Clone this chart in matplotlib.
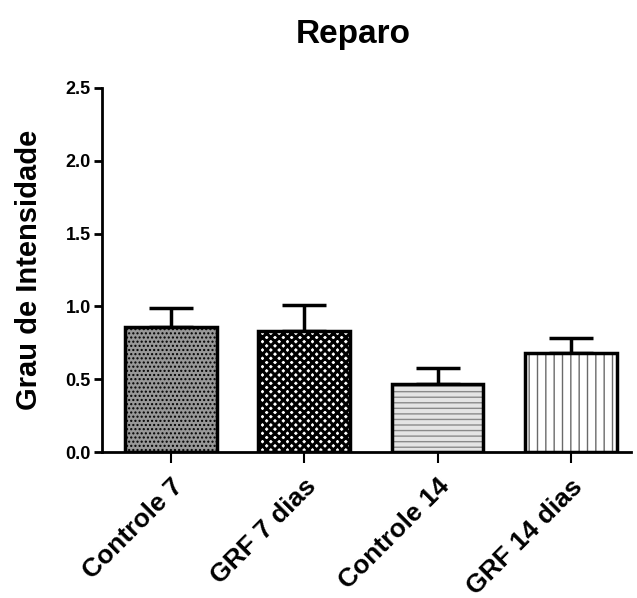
import matplotlib
matplotlib.use("Agg")
import matplotlib.pyplot as plt
import numpy as np

plt.rcParams["font.family"] = ["Liberation Sans", "DejaVu Sans"]
plt.rcParams["font.weight"] = "bold"

groups = ["Controle 7", "GRF 7 dias", "Controle 14", "GRF 14 dias"]
means = [0.86, 0.83, 0.47, 0.68]
errors = [0.13, 0.18, 0.11, 0.10]

faces = ["#989898", "white", "#e4e4e4", "white"]
hatches = ["....", "xxxx", "---", "||"]
hatch_colors = ["black", "black", "#8a8a8a", "#6a6a6a"]
hatch_widths = [1.0, 2.2, 1.0, 1.0]

fig = plt.figure(figsize=(6.37, 5.98), dpi=100)
ax = fig.add_axes([0.16, 0.244, 0.83, 0.609])

x = np.arange(len(groups))
width = 0.69

# fill + hatch first, then the thick black outline on top
for i in range(len(groups)):
    plt.rcParams["hatch.linewidth"] = hatch_widths[i]
    ax.bar(x[i], means[i], width=width, color=faces[i], hatch=hatches[i],
           edgecolor=hatch_colors[i], linewidth=0, zorder=2)
ax.bar(x, means, width=width, fill=False, edgecolor="black", linewidth=2.5, zorder=3)

ax.errorbar(x, means, yerr=[np.zeros(len(errors)), errors], fmt="none",
            ecolor="black", elinewidth=2.5, capsize=16, capthick=2.5, zorder=1)

ax.set_ylim(0, 2.5)
ax.set_xlim(-0.52, 3.45)
ax.set_yticks([0.0, 0.5, 1.0, 1.5, 2.0, 2.5])
ax.set_yticklabels(["0.0", "0.5", "1.0", "1.5", "2.0", "2.5"], fontsize=13, fontweight="bold")
ax.set_xticks(x)
ax.set_xticklabels(groups, rotation=45, ha="right", rotation_mode="anchor",
                   fontsize=19, fontweight="bold")

ax.spines["top"].set_visible(False)
ax.spines["right"].set_visible(False)
ax.spines["left"].set_linewidth(2)
ax.spines["bottom"].set_linewidth(2)
ax.tick_params(axis="y", direction="out", length=6, width=2, pad=2)
ax.tick_params(axis="x", direction="out", length=8, width=1.5, pad=8)

ax.set_ylabel("Grau de Intensidade", fontsize=21, fontweight="bold", labelpad=16)
ax.set_title("Reparo", fontsize=24, fontweight="bold", pad=32, x=0.475)

fig.savefig("out.png", dpi=100)
